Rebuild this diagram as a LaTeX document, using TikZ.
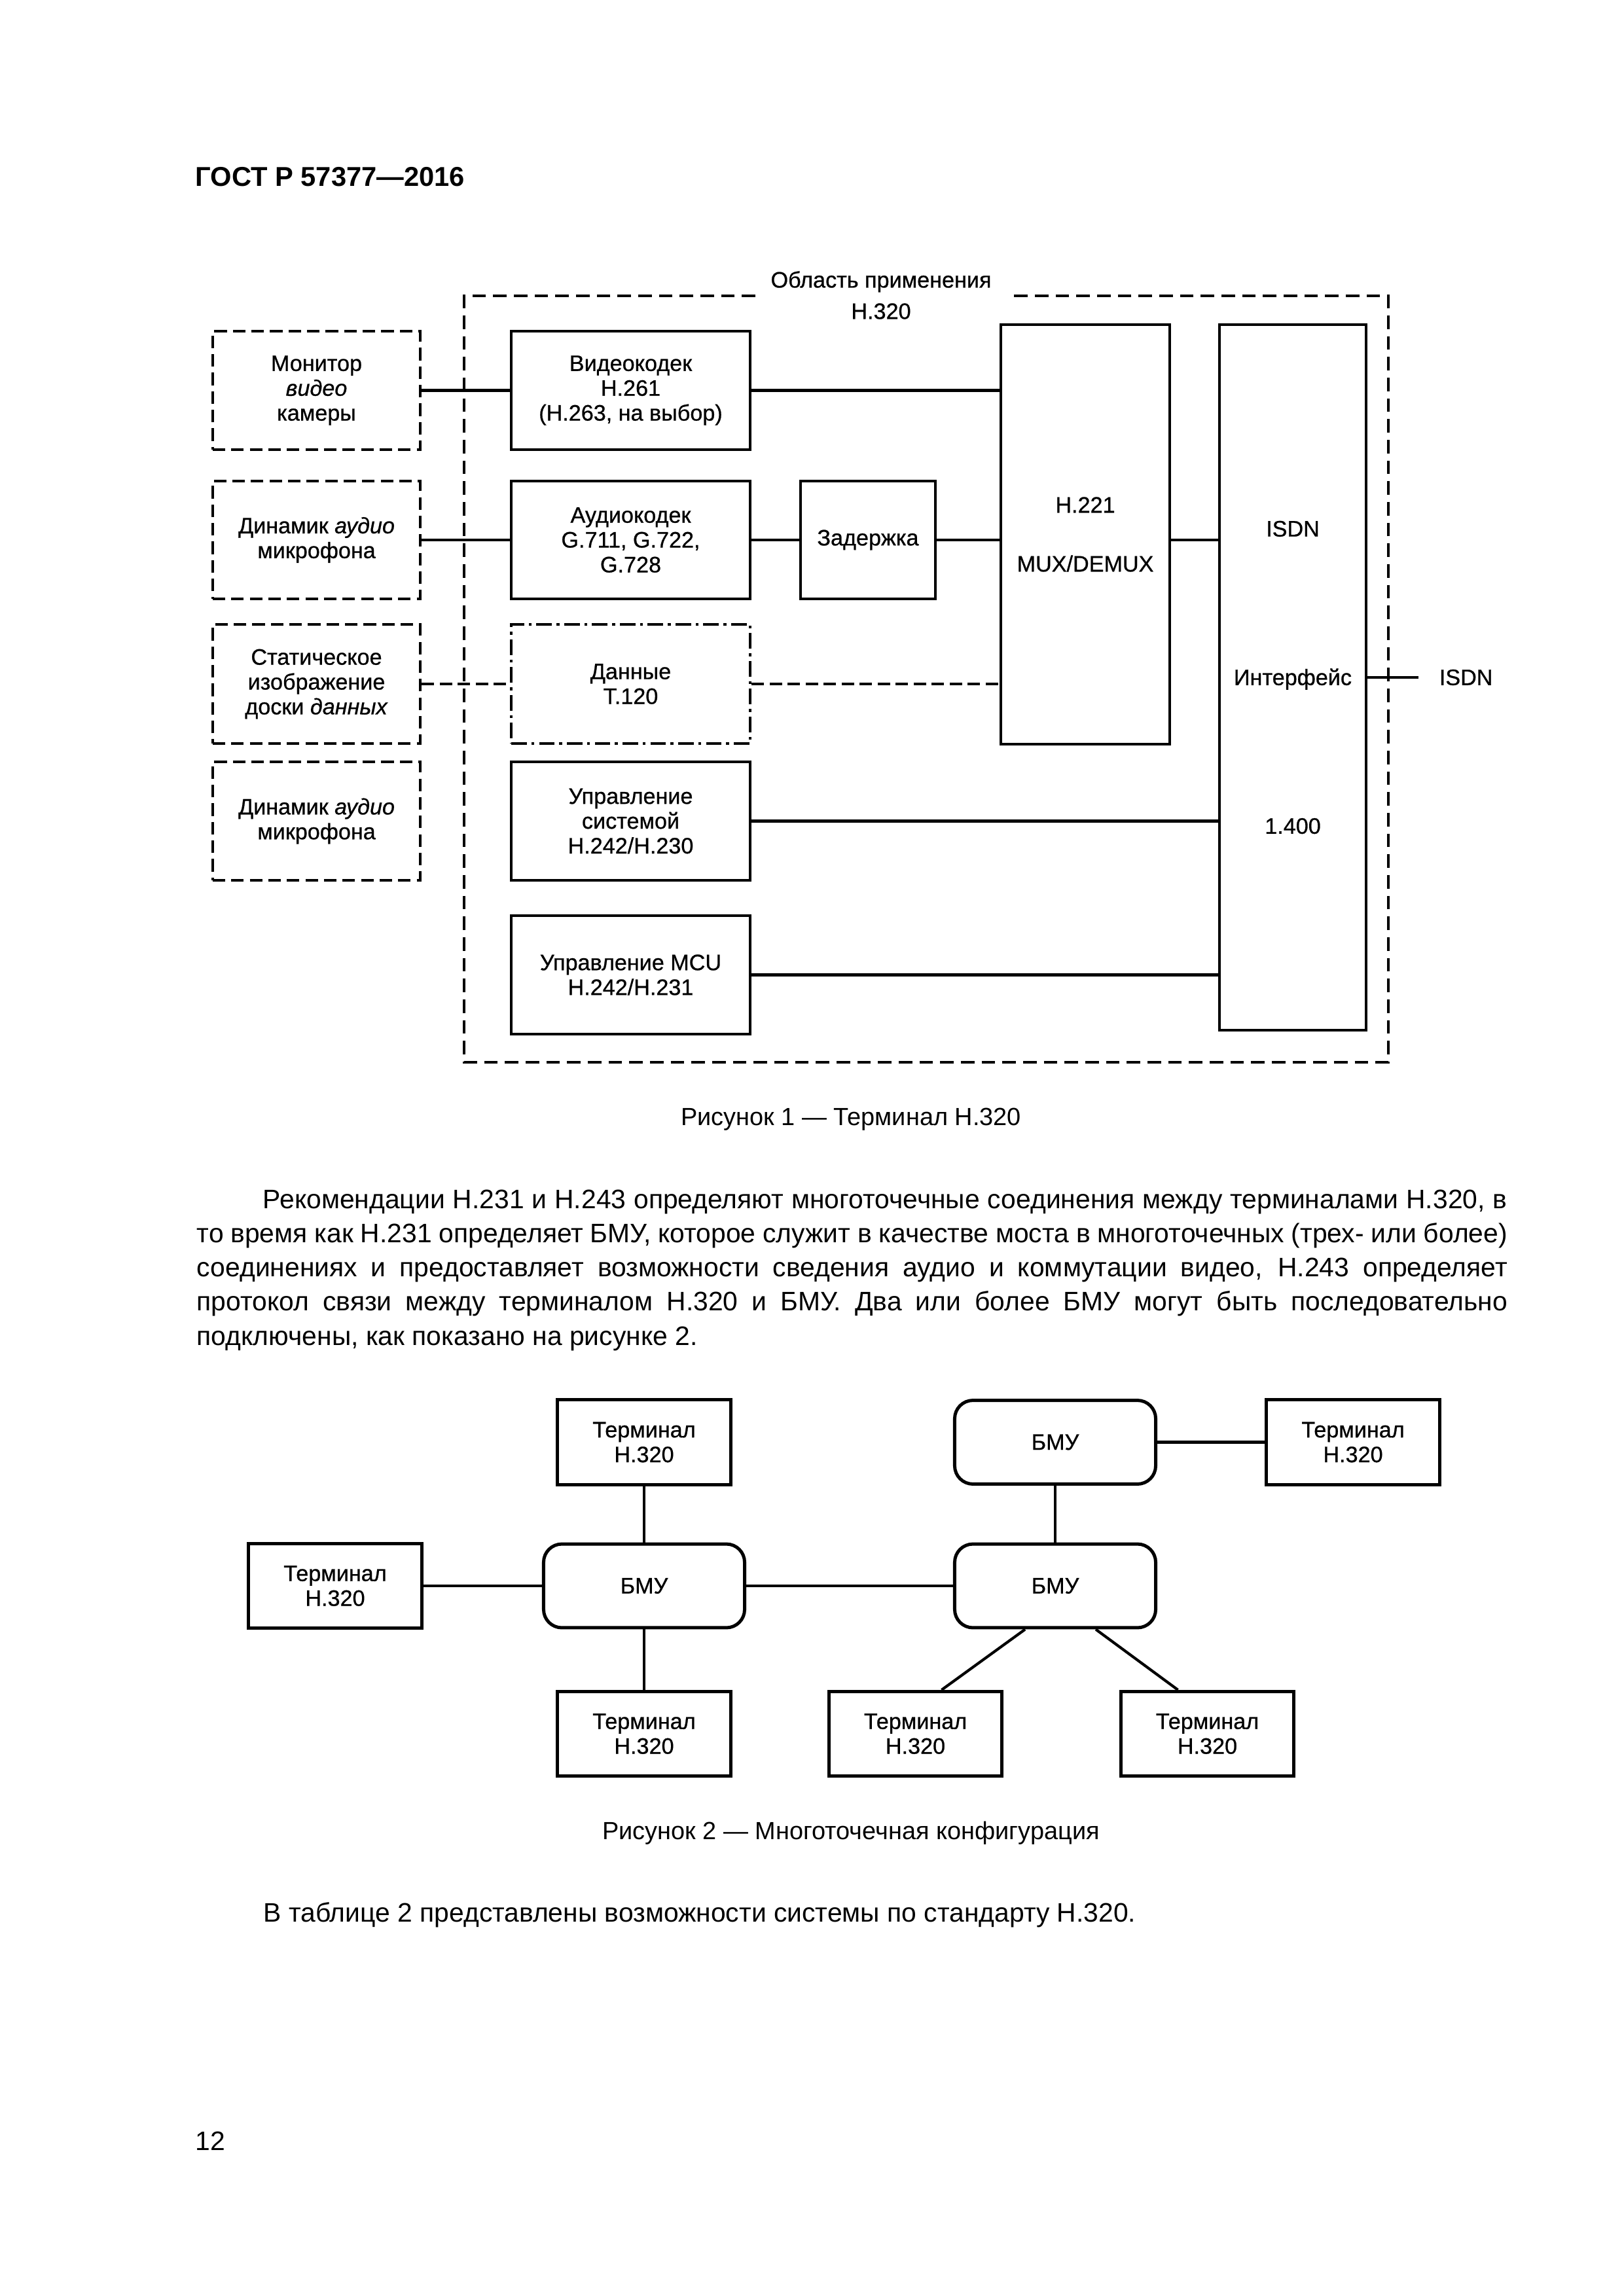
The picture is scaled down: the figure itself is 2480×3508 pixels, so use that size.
\documentclass[tikz,border=0pt]{standalone}
\usepackage{fontspec}
\setmainfont{Liberation Sans}
\newfontfamily\figfont{Liberation Sans}[FakeBold=0.7]
\usetikzlibrary{calc}

\begin{document}
\begin{tikzpicture}[
  x=0.24pt, y=-0.24pt,
  figtext/.style={font=\figfont\fontsize{8.2}{9.1}\selectfont, align=center},
  blk/.style={figtext, draw, line width=1.1pt, inner sep=0pt,
    minimum width=87.6pt, minimum height=43.4pt},
  extbox/.style={blk, minimum width=76.1pt, line width=1pt,
    dash pattern=on 4.6pt off 2.2pt},
  databox/.style={blk, dash pattern=on 5.7pt off 1.7pt on 1.1pt off 1.7pt},
  link/.style={line width=1pt},
  dlink/.style={link, dash pattern=on 4.6pt off 2pt},
  frame/.style={line width=0.9pt, dash pattern=on 5pt off 2.6pt},
  term/.style={blk, line width=1.2pt, minimum width=63.4pt, minimum height=31pt},
  bmu/.style={term, minimum width=73.7pt, minimum height=30.7pt, rounded corners=6.7pt},
  body/.style={font=\fontsize{9.8}{12.55}\selectfont, inner sep=0pt, anchor=base west},
  caption/.style={font=\fontsize{9.1}{11}\selectfont, inner sep=0pt},
]
\useasboundingbox[fill=white] (0,0) rectangle (2480,3508);

\node[font=\bfseries\fontsize{10}{12}\selectfont, anchor=base west, inner sep=0pt]
  (gost) at (298,285) {ГОСТ Р 57377—2016};

% Figure 1
\draw[frame] (1154,452) -- (709,452) -- (709,1623) -- (2121,1623) -- (2121,452) -- (1539,452);
\node[figtext, font=\figfont\fontsize{8.2}{11.5}\selectfont] (scope) at (1346,451)
  {Область применения\\H.320};

\node[extbox] (mon) at (483.5,596.5) {Монитор\\\textit{видео}\\камеры};
\node[extbox, minimum height=43.2pt] (spk1) at (483.5,825) {Динамик \textit{аудио}\\микрофона};
\node[extbox, minimum height=43.7pt] (still) at (483.5,1045)
  {Статическое\\изображение\\доски \textit{данных}};
\node[extbox] (spk2) at (483.5,1254.5) {Динамик \textit{аудио}\\микрофона};

\node[blk] (video) at (963.5,596.5) {Видеокодек\\H.261\\(H.263, на выбор)};
\node[blk, minimum height=43.2pt] (audio) at (963.5,825) {Аудиокодек\\G.711, G.722,\\G.728};
\node[databox, minimum height=43.7pt] (data) at (963.5,1045) {Данные\\T.120};
\node[blk] (sysctl) at (963.5,1254.5) {Управление\\системой\\H.242/H.230};
\node[blk] (mcuctl) at (963.5,1489.5) {Управление MCU\\H.242/H.231};
\node[blk, minimum width=49.4pt, minimum height=43.2pt] (delay) at (1326,825) {Задержка};
\node[blk, minimum width=61.9pt, minimum height=153.8pt] (mux) at (1658,816.5)
  {H.221\\[12.5pt]MUX/DEMUX};
\node[blk, minimum width=53.8pt, minimum height=258.7pt] (isdn) at (1975,1035)
  {ISDN\\[45.4pt]Интерфейс\\[45.4pt]1.400};
\coordinate (isdnend) at (2167,1035);
\node[figtext, anchor=west, inner sep=0pt] (isdnlbl) at (2198,1035) {ISDN};

\draw[link] (mon) -- (video);
\draw[link] (video.east) -- (mux.west |- video);
\draw[link] (spk1) -- (audio);
\draw[link] (audio) -- (delay);
\draw[link] (delay) -- (mux.west |- delay);
\draw[link] (mux.east |- delay) -- (isdn.west |- delay);
\draw[dlink] (still) -- (data);
\draw[dlink] (data.east) -- (mux.west |- data);
\draw[link] (sysctl.east) -- (isdn.west |- sysctl);
\draw[link] (mcuctl.east) -- (isdn.west |- mcuctl);
\draw[link] (isdn.east) -- (isdnend);

\node[caption] (cap1) at (1300,1710) {Рисунок 1 — Терминал H.320};

% text
\node[body] (par1) at (401,1846) {\makebox[456.2pt][s]{Рекомендации H.231 и H.243 определяют многоточечные соединения между терминалами H.320, в}};
\node[body] (par2) at (300,1898.3) {\makebox[480.5pt][s]{то время как H.231 определяет БМУ, которое служит в качестве моста в многоточечных (трех- или более)}};
\node[body] (par3) at (300,1950.5) {\makebox[480.5pt][s]{соединениях и предоставляет возможности сведения аудио и коммутации видео, H.243 определяет}};
\node[body] (par4) at (300,2002.8) {\makebox[480.5pt][s]{протокол связи между терминалом H.320 и БМУ. Два или более БМУ могут быть последовательно}};
\node[body] (par5) at (300,2055) {подключены, как показано на рисунке 2.};

% Figure 2
\node[term] (t1) at (984,2203.5) {Терминал\\H.320};
\node[bmu] (m1) at (984,2423) {БМУ};
\node[term] (t2) at (512,2423) {Терминал\\H.320};
\node[term] (t3) at (984,2649) {Терминал\\H.320};
\node[bmu] (m2) at (1612,2203.5) {БМУ};
\node[term] (t4) at (2067,2203.5) {Терминал\\H.320};
\node[bmu] (m3) at (1612,2423) {БМУ};
\node[term] (t5) at (1398.5,2649) {Терминал\\H.320};
\node[term] (t6) at (1844.5,2649) {Терминал\\H.320};

\draw[link] (t1) -- (m1);
\draw[link] (t2) -- (m1);
\draw[link] (m1) -- (t3);
\draw[link] (m1) -- (m3);
\draw[link] (m2) -- (t4);
\draw[link] (m2) -- (m3);
\draw[link] ($(m3.south)+(-46,0)$) -- ($(t5.north)+(40,0)$);
\draw[link] ($(m3.south)+(62,0)$) -- ($(t6.north)+(-45,0)$);

\node[caption] (cap2) at (1300,2801) {Рисунок 2 — Многоточечная конфигурация};

\node[body] (tbl) at (402,2936) {В таблице 2 представлены возможности системы по стандарту H.320.};
\node[body] (pgno) at (298,3285) {12};
\end{tikzpicture}
\end{document}
